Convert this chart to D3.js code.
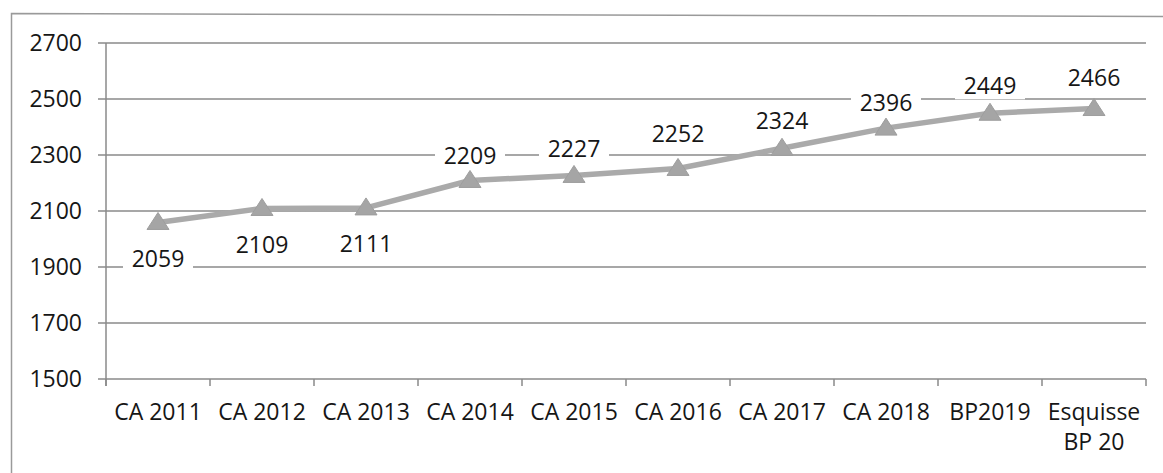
<!DOCTYPE html>
<html>
<head>
<meta charset="utf-8">
<script src="https://cdn.jsdelivr.net/npm/d3@7"></script>
<style>
  html, body { margin: 0; padding: 0; background: #fff; }
  svg { display: block; }
  text { font-family: "Open Sans", "Noto Sans", sans-serif; fill: #161616; }
</style>
</head>
<body>
<svg id="chart" width="1163" height="473"></svg>
<script>
// Effectifs par exercice
const categories = ["CA 2011", "CA 2012", "CA 2013", "CA 2014", "CA 2015",
                    "CA 2016", "CA 2017", "CA 2018", "BP2019", "Esquisse\nBP 20"];
const values = [2059, 2109, 2111, 2209, 2227, 2252, 2324, 2396, 2449, 2466];
const labelSide = ["below", "below", "below", "above", "above",
                   "above", "above", "above", "above", "above"];
const yTicks = [1500, 1700, 1900, 2100, 2300, 2500, 2700];

const W = 1163, H = 473;
const margin = { left: 106, right: 17, top: 43, bottom: 94 };
const svg = d3.select("#chart");
const fontSize = 23;

// outer frame (top and left edges)
svg.append("path")
  .attr("d", `M11.5,${H} L11.5,13.5 L${W},16.5`)
  .attr("fill", "none").attr("stroke", "#9a9a9a").attr("stroke-width", 1.5);

const x = d3.scaleBand().domain(categories)
  .range([margin.left, W - margin.right]).paddingInner(0).paddingOuter(0);
const y = d3.scaleLinear().domain([1500, 2700])
  .range([H - margin.bottom, margin.top]);

const gridColor = "#8a8a8a";

// horizontal gridlines, with the left tick
const grid = svg.append("g");
grid.selectAll("line").data(yTicks).join("line")
  .attr("x1", margin.left - 8).attr("x2", W - margin.right)
  .attr("y1", d => y(d)).attr("y2", d => y(d))
  .attr("stroke", gridColor).attr("stroke-width", 1.5);

// y axis line
svg.append("line")
  .attr("x1", margin.left).attr("x2", margin.left)
  .attr("y1", y(2700)).attr("y2", y(1500) + 7)
  .attr("stroke", gridColor).attr("stroke-width", 1.5);

// y tick labels
svg.append("g").selectAll("text").data(yTicks).join("text")
  .attr("x", 82).attr("y", d => y(d))
  .attr("dy", "0.36em")
  .attr("text-anchor", "end")
  .attr("font-size", fontSize)
  .text(d => d);

// x axis category boundary ticks
const bounds = categories.map(c => x(c)).concat([W - margin.right]);
svg.append("g").selectAll("line").data(bounds).join("line")
  .attr("x1", d => d).attr("x2", d => d)
  .attr("y1", y(1500)).attr("y2", y(1500) + 7)
  .attr("stroke", gridColor).attr("stroke-width", 1.5);

// x category labels (multi-line where needed)
const xl = svg.append("g").selectAll("text").data(categories).join("text")
  .attr("x", d => x(d) + x.bandwidth() / 2)
  .attr("y", 412)
  .attr("text-anchor", "middle")
  .attr("font-size", fontSize);
xl.each(function(d) {
  const lines = d.split("\n");
  d3.select(this).selectAll("tspan").data(lines).join("tspan")
    .attr("x", x(d) + x.bandwidth() / 2)
    .attr("dy", (l, i) => i === 0 ? "0.36em" : "30px")
    .text(l => l);
});

const px = (d, i) => x(categories[i]) + x.bandwidth() / 2;

// series line
svg.append("path")
  .datum(values)
  .attr("d", d3.line().x((d, i) => px(d, i)).y(d => y(d)))
  .attr("fill", "none").attr("stroke", "#aaaaaa")
  .attr("stroke-width", 5.5).attr("stroke-linejoin", "round");

// triangle markers
svg.append("g").selectAll("path").data(values).join("path")
  .attr("transform", (d, i) => `translate(${px(d, i)},${y(d)})`)
  .attr("d", "M0,-10 L11,7 L-11,7 Z")
  .attr("fill", "#a5a5a5").attr("stroke", "#9e9e9e").attr("stroke-width", 1);

// data labels on white boxes (they interrupt the gridlines)
const labelOffset = [36, 36, 36, -25, -27, -35, -28, -25, -28, -31];
const lab = svg.append("g").selectAll("g").data(values).join("g")
  .attr("transform", (d, i) => {
    const off = labelSide[i] === "below" ? Math.abs(labelOffset[i]) : -Math.abs(labelOffset[i]);
    return `translate(${px(d, i)},${y(d) + off})`;
  });
lab.append("rect")
  .attr("x", -35).attr("y", -14).attr("width", 70).attr("height", 28)
  .attr("fill", "#fff");
lab.append("text")
  .attr("text-anchor", "middle").attr("dy", "0.36em")
  .attr("font-size", fontSize)
  .text(d => d);
</script>
</body>
</html>
